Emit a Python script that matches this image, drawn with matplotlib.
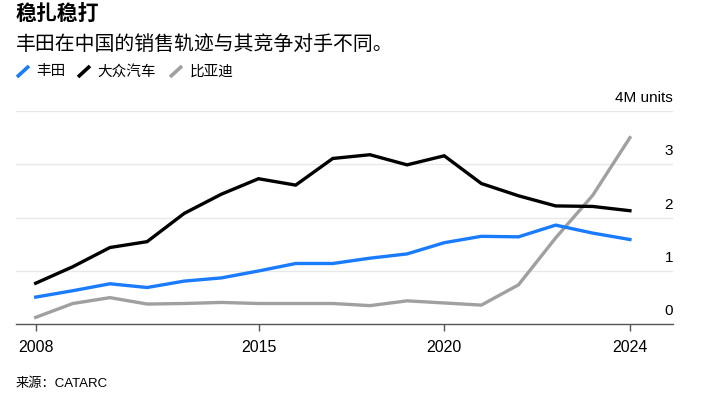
import matplotlib
matplotlib.use("Agg")
import matplotlib.pyplot as plt
import matplotlib.transforms as mtrans
from matplotlib.lines import Line2D

plt.rcParams['font.family'] = ['Liberation Sans', 'Noto Sans CJK SC', 'DejaVu Sans']

years = list(range(2008, 2025))
toyota = [0.51, 0.63, 0.76, 0.69, 0.81, 0.87, 1.00, 1.14, 1.14, 1.24, 1.32, 1.53, 1.65, 1.64, 1.86, 1.71, 1.59]
vw = [0.77, 1.08, 1.44, 1.55, 2.08, 2.44, 2.73, 2.61, 3.11, 3.18, 2.99, 3.16, 2.64, 2.41, 2.22, 2.21, 2.13]
byd = [0.13, 0.39, 0.50, 0.38, 0.39, 0.41, 0.39, 0.39, 0.39, 0.35, 0.44, 0.40, 0.36, 0.74, 1.62, 2.42, 3.50]

series_names = ['丰田', '大众汽车', '比亚迪']
colors = ['#1a7bfb', '#000000', '#a0a0a0']

tick_pos = [2008, 2014, 2019, 2024]
tick_labels = ['2008', '2015', '2020', '2024']
y_ticks = [0, 1, 2, 3, 4]
y_labels = ['0', '1', '2', '3', '4M units']

W, H = 705, 401
fig = plt.figure(figsize=(W / 100, H / 100), dpi=100)
ax = fig.add_axes([16 / W, 1 - 324.3 / H, (673 - 16) / W, (324.3 - 111) / H])

ax.plot(years, byd, color=colors[2], lw=2.4, solid_joinstyle='miter', zorder=3)
ax.plot(years, toyota, color=colors[0], lw=2.4, solid_joinstyle='miter', zorder=4)
ax.plot(years, vw, color=colors[1], lw=2.4, solid_joinstyle='miter', zorder=5)

ax.set_xlim(2007.47, 2025.16)
ax.set_ylim(0, 4)

for v in y_ticks[1:]:
    ax.axhline(v, color='#e8e8e8', lw=1, zorder=1)

for s in ['top', 'right', 'left']:
    ax.spines[s].set_visible(False)
ax.spines['bottom'].set_color('#555555')
ax.spines['bottom'].set_linewidth(1)

ax.set_xticks(tick_pos)
ax.set_xticklabels(tick_labels, fontsize=11.5, color='#000000')
ax.tick_params(axis='x', length=5, width=1, color='#555555', pad=6)
ax.set_yticks([])

off = mtrans.ScaledTranslation(0, 0.09, fig.dpi_scale_trans)
trans = mtrans.blended_transform_factory(ax.transAxes, ax.transData) + off
for v, lab in zip(y_ticks, y_labels):
    ax.text(1.0, v, lab, transform=trans, ha='right', va='baseline', fontsize=11, color='#000000')

# Titles
fig.text(16 / W, 1 - 14 / H, '稳扎稳打', fontsize=15, fontweight='bold', va='center', ha='left',
         family=['Noto Sans CJK SC'])
fig.text(16 / W, 1 - 44 / H, '丰田在中国的销售轨迹与其竞争对手不同。', fontsize=14.3, va='center', ha='left',
         family=['Noto Sans CJK SC'])

# Legend
leg_marker_x = [17, 78, 170]
leg_text_x = [36.5, 97.5, 190]
for mx, tx, name, c in zip(leg_marker_x, leg_text_x, series_names, colors):
    fig.add_artist(Line2D([mx / W, (mx + 12) / W], [1 - 77 / H, 1 - 66 / H], color=c, lw=2.6,
                          solid_capstyle='butt', transform=fig.transFigure))
    fig.text(tx / W, 1 - 71.5 / H, name, fontsize=10.5, va='center', ha='left',
             family=['Noto Sans CJK SC'])

fig.text(16 / W, 1 - 384 / H, '来源：CATARC', fontsize=9.5, va='center', ha='left')

fig.savefig('out.png', dpi=100, facecolor='white')
